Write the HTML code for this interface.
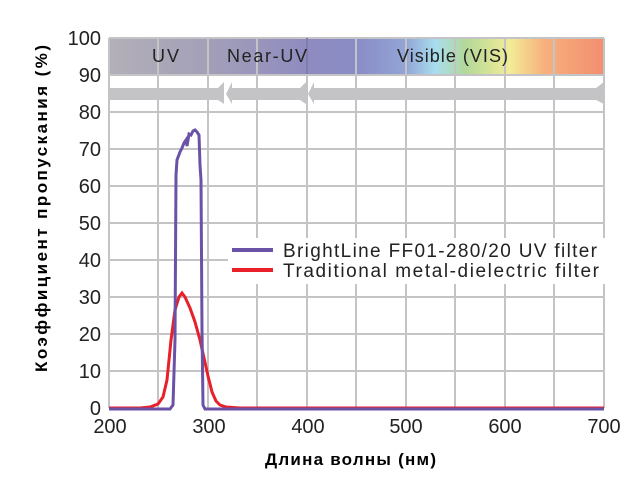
<!DOCTYPE html>
<html><head><meta charset="utf-8"><style>
body{margin:0;background:#fff;}
svg text{font-family:"Liberation Sans",sans-serif;}
</style></head><body>
<svg width="638" height="475" viewBox="0 0 638 475" xmlns="http://www.w3.org/2000/svg">
<defs>
<linearGradient id="band" x1="109" x2="604" y1="0" y2="0" gradientUnits="userSpaceOnUse">
<stop offset="0" stop-color="#b3b0b8"/>
<stop offset="0.2" stop-color="#a39fb8"/>
<stop offset="0.4" stop-color="#8f8bc0"/>
<stop offset="0.5" stop-color="#8a8cc6"/>
<stop offset="0.6" stop-color="#92a5d6"/>
<stop offset="0.66" stop-color="#a9ddee"/>
<stop offset="0.72" stop-color="#b3d89a"/>
<stop offset="0.81" stop-color="#f2ec96"/>
<stop offset="0.88" stop-color="#f7b07c"/>
<stop offset="1" stop-color="#f28e70"/>
</linearGradient>
</defs>
<rect x="109" y="38" width="495" height="36" fill="url(#band)"/>
<g stroke="#c4c4c6" stroke-width="2">
<line x1="109" y1="38" x2="109" y2="408"/><line x1="158" y1="38" x2="158" y2="408"/>
<line x1="208" y1="38" x2="208" y2="408"/><line x1="257" y1="38" x2="257" y2="408"/>
<line x1="307" y1="38" x2="307" y2="408"/><line x1="356" y1="38" x2="356" y2="408"/>
<line x1="406" y1="38" x2="406" y2="408"/><line x1="455" y1="38" x2="455" y2="408"/>
<line x1="505" y1="38" x2="505" y2="408"/><line x1="554" y1="38" x2="554" y2="408"/>
<line x1="604" y1="38" x2="604" y2="408"/>
<line x1="109" y1="38" x2="604" y2="38"/><line x1="109" y1="75" x2="604" y2="75"/>
<line x1="109" y1="112" x2="604" y2="112"/><line x1="109" y1="149" x2="604" y2="149"/>
<line x1="109" y1="186" x2="604" y2="186"/><line x1="109" y1="223" x2="604" y2="223"/>
<line x1="109" y1="260" x2="604" y2="260"/><line x1="109" y1="297" x2="604" y2="297"/>
<line x1="109" y1="334" x2="604" y2="334"/><line x1="109" y1="371" x2="604" y2="371"/>
</g>
<line x1="307" y1="38" x2="307" y2="74" stroke="#6a64a8" stroke-width="1.5"/>
<g fill="#c4c4c6">
<polygon points="109,88 218,88 224,82 224,104 218,100 109,100"/>
<polygon points="226,94 232,82 232,88 300,88 306,82 306,104 300,100 232,100 232,104"/>
<polygon points="308,94 314,82 314,88 596,88 604,82 604,104 596,100 314,100 314,104"/>
</g>
<g font-size="18" fill="#222">
<text x="152" y="62" textLength="27">UV</text>
<text x="227" y="62" textLength="80">Near-UV</text>
<text x="397" y="62" textLength="111">Visible (VIS)</text>
</g>
<polyline fill="none" stroke="#e8202a" stroke-width="3" points="109,408 140,408 150,407 158,404 163,397 167,380 171,340 175,310 179,297 182,293 185,297 190,308 195,322 200,340 204,358 208,376 212,392 216,401 220,405 226,407 240,408 604,408"/>
<polyline fill="none" stroke="#6a52a6" stroke-width="3" points="109,409 170,409 173,405 175,340 176,175 177,160 180,152 182,148 184,143 186,140 187,146 189,134 191,135 193,131 195,130 197,132 199,135 200,165 201,180 202,330 203,405 205,409 604,409"/>
<g font-size="20" fill="#222" text-anchor="end">
<text x="101" y="45">100</text><text x="101" y="82">90</text><text x="101" y="119">80</text>
<text x="101" y="156">70</text><text x="101" y="193">60</text><text x="101" y="230">50</text>
<text x="101" y="267">40</text><text x="101" y="304">30</text><text x="101" y="341">20</text>
<text x="101" y="378">10</text><text x="101" y="415">0</text>
</g>
<g font-size="20" fill="#222" text-anchor="middle">
<text x="110" y="433">200</text><text x="209" y="433">300</text><text x="308" y="433">400</text>
<text x="406" y="433">500</text><text x="505" y="433">600</text><text x="604" y="433">700</text>
</g>
<text x="265" y="465" font-size="17" font-weight="bold" fill="#000" textLength="171">Длина волны (нм)</text>
<text transform="translate(47,372) rotate(-90)" font-size="17" font-weight="bold" fill="#000" textLength="327">Коэффициент пропускания   (%)</text>
<rect x="228" y="238" width="380" height="46" fill="#fff"/>
<line x1="232" y1="250" x2="273" y2="250" stroke="#6a52a6" stroke-width="4"/>
<line x1="232" y1="270" x2="273" y2="270" stroke="#e8202a" stroke-width="4"/>
<g font-size="19" fill="#222">
<text x="283" y="257" textLength="314">BrightLine FF01-280/20 UV filter</text>
<text x="283" y="277" textLength="316">Traditional metal-dielectric filter</text>
</g>
</svg>
</body></html>
